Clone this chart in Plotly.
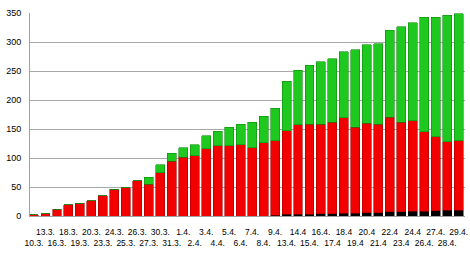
import plotly.graph_objects as go

dates = ["10.3.", "13.3.", "16.3.", "18.3.", "19.3.", "20.3.", "23.3.", "24.3.", "25.3.", "26.3.",
         "27.3.", "30.3.", "31.3.", "1.4.", "2.4.", "3.4.", "4.4.", "5.4.", "6.4.", "7.4.",
         "8.4.", "9.4.", "13.4.", "14.4", "15.4.", "16.4.", "17.4", "18.4", "19.4", "20.4",
         "21.4", "22.4", "23.4", "24.4", "26.4.", "27.4.", "28.4.", "29.4."]

deaths = [0, 0, 0, 0, 0, 0, 0, 0, 0, 0,
          0, 0, 0, 0, 0, 0, 0, 0, 0, 0,
          0, 1, 3, 3, 3, 4, 4, 5, 5, 6,
          6, 7, 7, 8, 8, 9, 10, 10]

active = [2, 4, 12, 19, 22, 26, 35, 46, 49, 61,
          55, 75, 94, 101, 104, 116, 121, 121, 123, 118,
          126, 129, 144, 154, 155, 154, 158, 164, 148, 154,
          152, 163, 155, 156, 137, 128, 118, 120]

recovered = [0, 0, 0, 0, 0, 0, 0, 0, 0, 0,
             12, 13, 14, 17, 19, 22, 25, 32, 35, 44,
             46, 56, 85, 94, 102, 108, 109, 114, 134, 135,
             139, 150, 164, 169, 198, 206, 218, 219]

yticks = [0, 50, 100, 150, 200, 250, 300, 350]

# alternate labels between two rows
ticktext = [d if i % 2 == 1 else "<br>" + d for i, d in enumerate(dates)]
x = list(range(len(dates)))

fig = go.Figure()
fig.add_bar(x=x, y=deaths, marker=dict(color="#000000", line=dict(color="#000000", width=0.5)), name="deaths")
fig.add_bar(x=x, y=active, marker=dict(color="#f20000", line=dict(color="#a80000", width=0.6)), name="active")
fig.add_bar(x=x, y=recovered, marker=dict(color="#1ec81e", line=dict(color="#0c8a0c", width=0.6)), name="recovered")

fig.update_layout(
    width=470, height=253,
    margin=dict(l=30, r=2, t=13, b=37),
    barmode="stack", bargap=0.22,
    showlegend=False,
    plot_bgcolor="white", paper_bgcolor="white",
    font=dict(family="Liberation Sans, Arial, sans-serif", size=9, color="#000000"),
)
fig.update_xaxes(
    range=[-0.35, 37.55],
    tickmode="array", tickvals=x, ticktext=ticktext,
    tickangle=0, showgrid=False, zeroline=False,
    ticks="outside", ticklen=8, tickcolor="rgba(0,0,0,0)",
    ticklabeloverflow="allow",
    showline=True, linecolor="#a0a0a0", linewidth=1,
    tickfont=dict(size=8.5),
)
fig.update_yaxes(
    range=[0, 350], tickmode="array", tickvals=yticks,
    showgrid=True, gridcolor="#a8a8a8", gridwidth=1,
    zeroline=False, showline=True, linecolor="#a0a0a0", linewidth=1,
    ticks="outside", ticklen=6, tickcolor="rgba(0,0,0,0)",
    tickfont=dict(size=9),
)

fig.write_html("out.html")
